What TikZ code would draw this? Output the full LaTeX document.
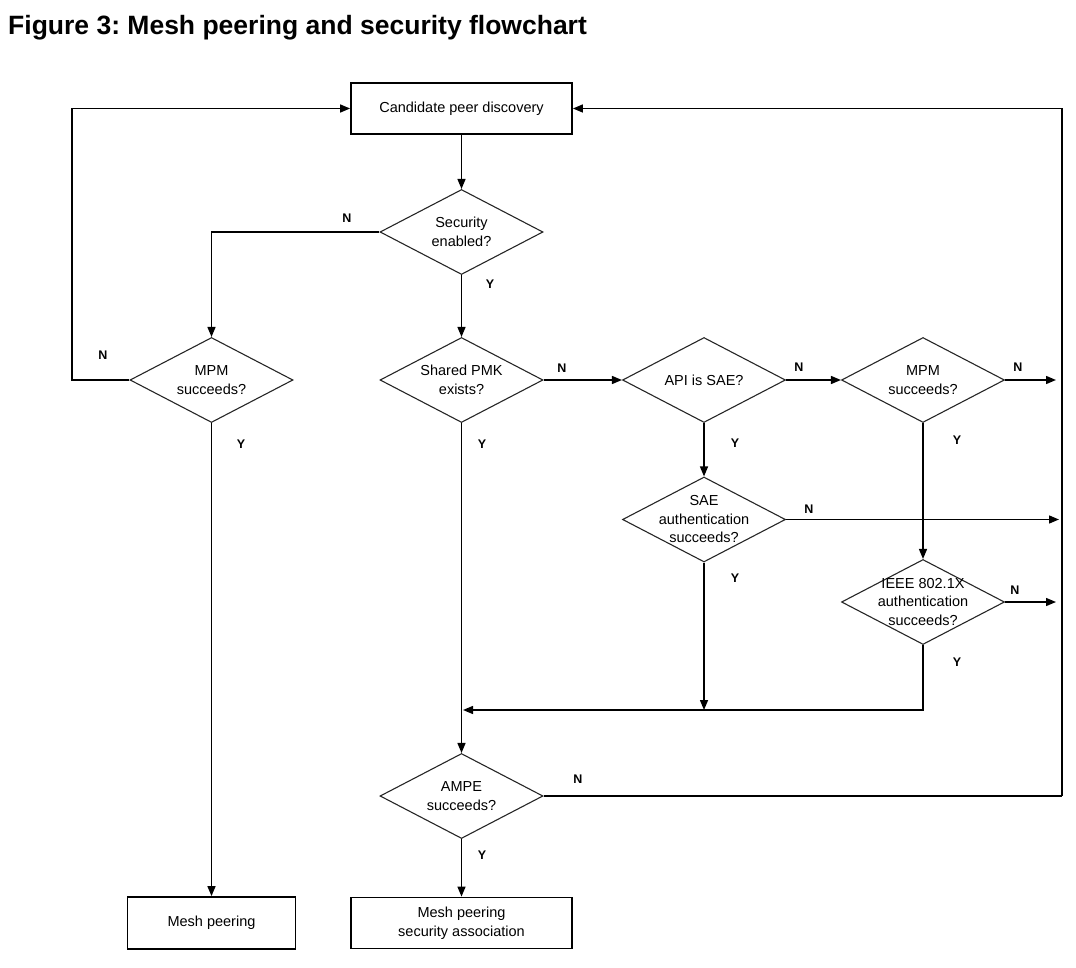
\documentclass[tikz,border=0pt]{standalone}
\usepackage{fontspec}
\setmainfont{Liberation Sans}
\usetikzlibrary{shapes.geometric,arrows.meta}
\frenchspacing
\begin{document}
\begin{tikzpicture}[x=1pt,y=-1pt,
  txt/.style={font=\fontsize{14.5}{18.5}\selectfont, align=center},
  procbox/.style={draw=black, line width=1.8pt, minimum width=221pt, minimum height=51pt, inner sep=0pt, txt},
  smallbox/.style={draw=black, line width=1.8pt, minimum width=168pt, minimum height=52pt, inner sep=0pt, txt},
  decision/.style={diamond, draw=black!85, line width=1.1pt, minimum width=163pt, minimum height=85pt, inner sep=0pt},
  dtext/.style={txt, inner sep=0pt},
  lbl/.style={font=\bfseries\fontsize{12.5}{14}\selectfont, inner sep=0pt},
  conn/.style={draw=black, line width=1.4pt},
  arr/.style={conn, -{Triangle[length=10pt,width=8pt]}}
]
\useasboundingbox (0,0) rectangle (1076,968);

\node[anchor=base west, font=\bfseries\fontsize{26.5}{30}\selectfont, inner sep=0pt] (title) at (8,35) {Figure 3: Mesh peering and security flowchart};

% boxes
\node[procbox] (cand) at (461.5,108.5) {Candidate peer discovery};
\node[smallbox] (mesh) at (211.5,923) {Mesh peering};
\node[procbox] (msa) at (461.5,923) {Mesh peering\\security association};

% decisions
\node[decision] (sec) at (461.5,232) {};
\node[dtext] (sect) at (sec.center) {Security\\enabled?};
\node[decision] (mpma) at (211.5,380) {};
\node[dtext] (mpmat) at (mpma.center) {MPM\\succeeds?};
\node[decision] (pmk) at (461.5,380) {};
\node[dtext] (pmkt) at (pmk.center) {Shared PMK\\exists?};
\node[decision] (api) at (704,380) {};
\node[dtext] (apit) at (api.center) {API is SAE?};
\node[decision] (mpmb) at (923,380) {};
\node[dtext] (mpmbt) at (mpmb.center) {MPM\\succeeds?};
\node[decision] (sae) at (704,519.5) {};
\node[dtext] (saet) at (sae.center) {SAE\\authentication\\succeeds?};
\node[decision] (ieee) at (923,602) {};
\node[dtext] (ieeet) at (ieee.center) {IEEE 802.1X\\authentication\\succeeds?};
\node[decision] (ampe) at (461.5,796) {};
\node[dtext] (ampet) at (ampe.center) {AMPE\\succeeds?};

% helper coordinates
\coordinate (loopL) at (72,380);
\coordinate (railTop) at (1062,108.5);
\coordinate (railBot) at (1062,796);
\coordinate (endA) at (1056,380);
\coordinate (endB) at (1059,519.5);
\coordinate (endC) at (1056,602);
\coordinate (merge) at (463,710);
\coordinate (mergeR) at (923,710);
\coordinate (saeEnd) at (704,710);

% connectors
\draw[arr] (cand.south) -- (sec.north);
\draw[arr] (sec.west) -| (mpma.north);
\draw[arr] (mpma.west) -- (loopL) |- (cand.west);
\draw[arr] (mpma.south) -- (mesh.north);
\draw[arr] (sec.south) -- (pmk.north);
\draw[arr] (pmk.east) -- (api.west);
\draw[arr] (api.east) -- (mpmb.west);
\draw[arr] (mpmb.east) -- (endA);
\draw[arr] (api.south) -- (sae.north);
\draw[arr] (sae.east) -- (endB);
\draw[arr] (mpmb.south) -- (ieee.north);
\draw[arr] (ieee.east) -- (endC);
\draw[arr] (railBot) -- (railTop) -- (cand.east);
\draw[conn] (ampe.east) -- (railBot);
\draw[arr] (ieee.south) -- (mergeR) -- (merge);
\draw[arr] (sae.south) -- (saeEnd);
\draw[arr] (pmk.south) -- (ampe.north);
\draw[arr] (ampe.south) -- (msa.north);

% labels
\node[lbl] (l1) at (347,218) {N};
\node[lbl] (l2) at (490,284) {Y};
\node[lbl] (l3) at (103,355) {N};
\node[lbl] (l4) at (241,444) {Y};
\node[lbl] (l5) at (562,368) {N};
\node[lbl] (l6) at (482,444) {Y};
\node[lbl] (l7) at (799,367) {N};
\node[lbl] (l8) at (1018,367) {N};
\node[lbl] (l9) at (735,443) {Y};
\node[lbl] (l10) at (957,440) {Y};
\node[lbl] (l11) at (809,509) {N};
\node[lbl] (l12) at (735,578) {Y};
\node[lbl] (l13) at (1015,590) {N};
\node[lbl] (l14) at (957,662) {Y};
\node[lbl] (l15) at (578,779) {N};
\node[lbl] (l16) at (482,855) {Y};
\end{tikzpicture}
\end{document}
